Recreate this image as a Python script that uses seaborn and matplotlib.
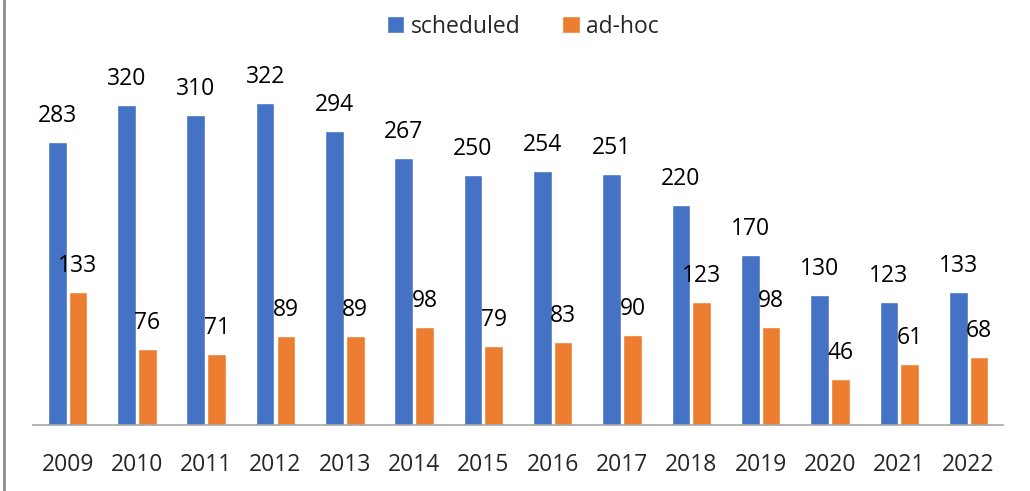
import pandas as pd
import seaborn as sns
import matplotlib.pyplot as plt
from matplotlib.lines import Line2D

years = ["2009", "2010", "2011", "2012", "2013", "2014", "2015",
         "2016", "2017", "2018", "2019", "2020", "2021", "2022"]
scheduled = [283, 320, 310, 322, 294, 267, 250, 254, 251, 220, 170, 130, 123, 133]
ad_hoc = [133, 76, 71, 89, 89, 98, 79, 83, 90, 123, 98, 46, 61, 68]
series_names = ["scheduled", "ad-hoc"]
colors = ["#4472C4", "#ED7D31"]

df = pd.DataFrame({
    "year": years * 2,
    "count": scheduled + ad_hoc,
    "type": [series_names[0]] * len(years) + [series_names[1]] * len(years),
})

sns.set_style("white")
plt.rcParams["font.family"] = ["Open Sans", "DejaVu Sans"]

fig = plt.figure(figsize=(10.3, 4.91), dpi=100)
ax = fig.add_axes([0.032, 0.134, 0.942, 0.774])

sns.barplot(data=df, x="year", y="count", hue="type", palette=colors,
            width=0.6, gap=0.1, saturation=1, ax=ax, legend=True)

for c in ax.containers:
    ax.bar_label(c, padding=10, fontsize=16.5, color="black")

ax.set_ylim(0, 380)
ax.set_xlim(-0.5, len(years) - 0.5)
ax.set_xlabel("")
ax.set_ylabel("")
ax.set_yticks([])
ax.tick_params(axis="x", length=0, labelsize=16.5, pad=20)
for s in ["top", "right", "left"]:
    ax.spines[s].set_visible(False)
ax.spines["bottom"].set_color("#A6A6A6")
ax.spines["bottom"].set_linewidth(1.2)

h, l = ax.get_legend_handles_labels()
ax.get_legend().remove()
fig.legend(h, l, loc="upper center", bbox_to_anchor=(0.508, 1.012), ncol=2,
           frameon=False, fontsize=16.5, handlelength=0.75, handleheight=0.75,
           handletextpad=0.3, columnspacing=1.8)

# left border line of the picture
fig.add_artist(Line2D([0.004, 0.004], [0, 1], transform=fig.transFigure,
                      color="#8C8C8C", linewidth=2))

fig.savefig("out.png", dpi=100)
